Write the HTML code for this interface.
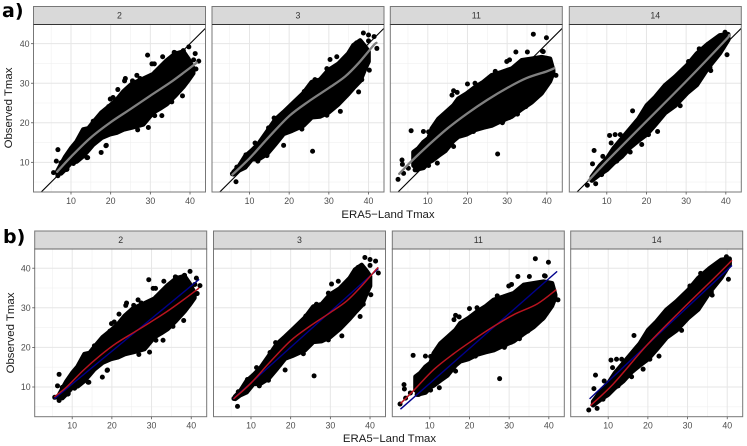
<!DOCTYPE html>
<html lang="en">
<head>
<meta charset="utf-8">
<title>Observed vs ERA5-Land Tmax</title>
<style>
html,body{margin:0;padding:0;background:#fff;width:747px;height:446px;overflow:hidden}
svg{display:block;font-family:"Liberation Sans",sans-serif}
</style>
</head>
<body>
<svg id="chart" width="747" height="446" viewBox="0 0 747 446" xmlns="http://www.w3.org/2000/svg">
<text x="2" y="17" font-family="DejaVu Sans, sans-serif" font-weight="700" font-size="19">a)</text>
<text x="3" y="243" font-family="DejaVu Sans, sans-serif" font-weight="700" font-size="19">b)</text>
<text transform="translate(12,108) rotate(-90)" text-anchor="middle" font-size="11.4" fill="#1a1a1a">Observed Tmax</text>
<text transform="translate(14,333) rotate(-90)" text-anchor="middle" font-size="11.4" fill="#1a1a1a">Observed Tmax</text>
<text x="388" y="218" text-anchor="middle" font-size="11.4" fill="#1a1a1a">ERA5−Land Tmax</text>
<text x="389.5" y="442" text-anchor="middle" font-size="11.4" fill="#1a1a1a">ERA5−Land Tmax</text>
</svg>
<script>
// ---- chart data (in degrees C) ----
const siteLabels = ["2", "3", "11", "14"];
const majorTicks = [10, 20, 30, 40];
const minorTicks = [5, 15, 25, 35, 45];

// dense cloud outline: [ERA5 Tmax, lowest observed, highest observed]
const cloud2 = [[6.5,7.3,7.6],[7.5,7.2,9.5],[8.5,8.2,11.3],[10,9.9,13.5],[11.4,10.2,15.2],[13.1,11.6,18.3],[14.4,13.1,18.6],[15.6,14.5,20.1],[17.7,16.2,22.6],[19.8,17.1,24.3],[21.5,17.5,25.8],[23.2,18.3,27.9],[25.3,18.8,29.8],[28.2,19.6,31.1],[30.7,22.6,32.3],[32.4,23.6,34],[34.1,24.7,35.7],[36.2,26.8,37.4],[38.3,29.1,38],[39.6,30.8,36.1],[40.8,32.5,33.8]];
const cloud3 = [[6,7,7.6],[7.2,7.9,8.8],[8.9,8.7,11.5],[10.6,10.8,13],[12.3,10.8,14.7],[14.4,12.1,17.7],[16.5,14.6,20.8],[18.6,17.2,22.7],[20.7,18,24.7],[23.6,19.3,27.5],[25.7,21.4,30.3],[27.8,21.6,30.9],[29.9,22.6,33.3],[32.4,24.7,34.9],[34.9,27.3,37.5],[36.2,28.8,39.6],[37.9,30.6,40.8],[39.1,33.6,39.3],[40,35.5,38]];
const cloud11 = [[6.4,9.2,12.6],[7.6,8.3,13.5],[8.9,8.6,15.1],[10.2,10,16.1],[11,10.4,18.5],[12.7,11.7,21],[14.4,12.9,22.5],[16.5,15.5,24.4],[17.7,16.5,26.1],[19.8,17.1,27.4],[21.9,18.2,29],[24,18.8,30.3],[26.1,19.3,32],[28.6,20.5,32.8],[31.2,21.6,33.7],[33.7,23.5,35.8],[36.2,25.2,36.2],[38.7,27.5,36.6],[40.8,30.5,36.2],[41.6,32.6,33.3]];
const cloud14 = [[6.2,5.4,6.3],[8.3,7,9.2],[10,8.1,10.9],[11.7,9.8,13.5],[13.8,11.5,16],[15.9,13.8,18.5],[18,15.5,21],[20.1,17.1,24.4],[22.2,19.5,26.5],[24.7,22.5,29.5],[27.2,24.3,31.6],[30.2,27.5,34.5],[32.7,29.6,37.5],[35.6,34,40],[38.5,37.6,42.1],[40.6,41,42.4]];

// individual outlying stations: [ERA5 Tmax, observed Tmax]
const outliers2 = [[39.7,39.2],[41.3,37.5],[42.2,35.6],[41.5,33.6],[38.1,26.8],[32.9,21.8],[31.1,21.8],[29.3,37.1],[33.1,36.7],[30.4,34.9],[31,34.9],[23.7,31.2],[23.5,30.6],[21.8,28.4],[26.6,32],[19.9,26],[20.6,26.4],[19.5,24.1],[18.9,14.3],[17.6,12.5],[6.7,13.2],[6.3,10.3],[7.5,9.9],[5.6,7.4],[6.7,6.6],[9,8.3],[14.2,11.2],[36,37.8],[38.3,38.2],[40.9,35.9]];
const outliers3 = [[38.7,42.7],[40,42.2],[41.4,41.8],[42.1,38.8],[40.2,33.3],[37.5,27.8],[32.9,22.9],[29.5,33.7],[30.3,36],[32,36.7],[25.9,12.8],[18.6,14.3],[6.6,5.1],[5.7,7.1],[6.8,8.8],[9.1,11.9],[16.2,21.2],[40,40.7]];
const outliers11 = [[36.6,42.4],[39.9,41.5],[38.9,38.1],[35.1,37.9],[32.2,37.9],[29.9,35.5],[30.6,35.9],[27.6,12.1],[20,29.8],[16.5,28.1],[16.1,27],[17.4,27.7],[5.8,18],[8.9,17.8],[3.5,10.6],[3.6,9.5],[3.9,7.2],[2.5,5.7],[12.4,9.8],[42.3,32],[38.3,27.2],[34.7,24.1],[32.4,22.8],[30.5,21.3],[28.8,20],[27.4,20.1],[7.2,8.1],[5.1,8.5]];
const outliers14 = [[16.5,23],[22.8,17.8],[40.3,37.2],[10.7,16.8],[12.1,17],[11.1,14.9],[6.8,13],[6.4,9.6],[5.1,4.2],[7.2,4.6],[9,11.5],[28.5,24.3],[39.8,42.9],[36.2,33.2]];

// stations along the rough edge of each cloud: [ERA5 Tmax, observed Tmax]
const edge2 = [[15.6,20.4],[19.6,24.1],[24,27.9],[25.5,30.6],[27.4,31.2],[31.2,32.7],[36.2,37.7],[38.3,38.2],[14,11.2],[10.6,9.7],[8.9,8.2],[18.8,14.2],[26.8,18.2],[29.5,18.8],[35.4,25.3]];
const edge3 = [[11.4,14.9],[14.8,18.7],[23.8,27.9],[26.5,30.9],[37,40.2],[12.1,10.3],[14.4,11.7],[17.3,15.7],[23.2,18.4],[29.5,21.9],[34.5,27.5],[38.3,30.9]];
const edge11 = [[10.2,17.7],[21.9,30],[23.6,29.6],[27,33],[39.1,38],[6.8,8.1],[10.2,9.2],[16.5,14],[21.5,17.8],[27,19.9],[29,20.5],[32.6,22.2],[38.4,27.3]];
const edge14 = [[13.4,17],[30.6,35.5],[33.3,38.7],[18.8,14.5],[20.5,17],[33.1,30.5],[36,34],[8.7,6.9],[12.5,10.3],[15.9,12.6]];

// row a: grey smoother
const greyFit2 = [[6.5,7.6],[10,11.4],[14.8,16.1],[19.8,20],[24.9,23.4],[29.9,26.8],[34.9,30.1],[38.7,32.9],[41.7,35.2]];
const greyFit3 = [[5.7,6.9],[10,11],[14.8,16.3],[20,21.7],[24.9,25.4],[30,28.8],[34.1,31.7],[37.5,35.1],[41.2,39.5],[42,40.2]];
const greyFit11 = [[2.8,7.1],[6,10.4],[10,14.2],[15,18.6],[20,22.4],[25,25.8],[30,28.8],[34.9,31.3],[40,33],[41.9,33.8]];
const greyFit14 = [[5.4,5.4],[10,10.3],[20,20.4],[30,30.5],[40,41],[40.8,42.1]];

// row b: blue linear fit end points
const blueFit2 = [[5.5,7.05],[42,37.2]];
const blueFit3 = [[5.5,7],[42.1,39.9]];
const blueFit11 = [[2.6,4.4],[42.1,39.2]];
const blueFit14 = [[5.3,7],[41.2,40.7]];

// row b: red smoother
const redFit2 = [[5.5,7.5],[8.6,10],[12.8,14.2],[17,17.9],[21.2,21.1],[25.4,23.7],[29.6,26.3],[33.8,29],[38,32],[42,35]];
const redFit3 = [[5.6,7],[10,11],[14.8,16.3],[20,21.7],[24.9,25.4],[30,28.8],[34.1,31.7],[37.5,35.1],[41.2,39.3],[42.1,40.2]];
const redFit11 = [[2.6,5.8],[6,9.2],[11,14.4],[16,18.4],[21.1,22],[26.1,25.3],[31.2,28.3],[37.1,31],[41.9,34.6]];
const redFit14 = [[5.5,5.3],[11.3,10.8],[19.7,20.5],[28.2,29.2],[36.6,37.4],[41.2,42]];

const clouds = [cloud2, cloud3, cloud11, cloud14];
const outlierSets = [outliers2, outliers3, outliers11, outliers14];
const edgeSets = [edge2, edge3, edge11, edge14];
const greyFits = [greyFit2, greyFit3, greyFit11, greyFit14];
const blueFits = [blueFit2, blueFit3, blueFit11, blueFit14];
const redFits = [redFit2, redFit3, redFit11, redFit14];

// ---- layout ----
const NS = "http://www.w3.org/2000/svg";
const svg = document.getElementById("chart");
const PANEL_W = 172, X_LO = 0.55, X_HI = 43.9, Y_LO = 2.5, Y_HI = 44.85, POINT_R = 2.5;
const rows = [
  { id: "a", lefts: [33.5, 212, 390.3, 569.3], stripTop: 6.5, top: 24.5, bottom: 192, rule: "#333" },
  { id: "b", lefts: [34.7, 213.5, 392.3, 570.7], stripTop: 231, top: 249, bottom: 416.7, rule: "#666" }
];

function make(tag, attrs, parent) {
  const el = document.createElementNS(NS, tag);
  for (const k in attrs) el.setAttribute(k, attrs[k]);
  parent.appendChild(el);
  return el;
}
function smoothPath(pts) {
  let d = "M" + pts[0][0].toFixed(2) + " " + pts[0][1].toFixed(2);
  for (let i = 0; i < pts.length - 1; i++) {
    const p0 = pts[Math.max(i - 1, 0)], p1 = pts[i], p2 = pts[i + 1], p3 = pts[Math.min(i + 2, pts.length - 1)];
    const c1x = p1[0] + (p2[0] - p0[0]) / 6, c1y = p1[1] + (p2[1] - p0[1]) / 6;
    const c2x = p2[0] - (p3[0] - p1[0]) / 6, c2y = p2[1] - (p3[1] - p1[1]) / 6;
    d += "C" + c1x.toFixed(2) + " " + c1y.toFixed(2) + " " + c2x.toFixed(2) + " " + c2y.toFixed(2) + " " + p2[0].toFixed(2) + " " + p2[1].toFixed(2);
  }
  return d;
}

rows.forEach(function (row) {
  row.lefts.forEach(function (left, s) {
    const sx = function (v) { return left + (v - X_LO) / (X_HI - X_LO) * PANEL_W; };
    const sy = function (v) { return row.bottom - (v - Y_LO) / (Y_HI - Y_LO) * (row.bottom - row.top); };
    const h = row.bottom - row.top;

    const g = make("g", {}, svg);
    
    

    const clipId = "clip-" + row.id + s;
    const defs = make("defs", {}, g);
    const cp = make("clipPath", { id: clipId }, defs);
    make("rect", { x: left, y: row.top, width: PANEL_W, height: h }, cp);

    const bg = make("rect", { x: left, y: row.top, width: PANEL_W, height: h, fill: "#fff" }, g);
    
    

    minorTicks.forEach(function (t) {
      if (t >= X_LO && t <= X_HI) {
        const gv = make("line", { x1: sx(t), x2: sx(t), y1: row.top, y2: row.bottom, stroke: "#f0f0f0", "stroke-width": 0.6 }, g);
        
        
      }
      if (t >= Y_LO && t <= Y_HI) {
        const gh = make("line", { x1: left, x2: left + PANEL_W, y1: sy(t), y2: sy(t), stroke: "#f0f0f0", "stroke-width": 0.6 }, g);
        
        
      }
    });
    majorTicks.forEach(function (t) {
      const gv = make("line", { x1: sx(t), x2: sx(t), y1: row.top, y2: row.bottom, stroke: "#e6e6e6", "stroke-width": 1 }, g);
      
      
      const gh = make("line", { x1: left, x2: left + PANEL_W, y1: sy(t), y2: sy(t), stroke: "#e6e6e6", "stroke-width": 1 }, g);
      
      
    });

    const inner = make("g", { "clip-path": "url(#" + clipId + ")" }, g);
    
    

    if (row.id === "a") {
      const ref = make("line", { x1: sx(X_LO), y1: sy(X_LO), x2: sx(X_HI), y2: sy(X_HI), stroke: "#000", "stroke-width": 1.1 }, inner);
      
      
    }

    const cloud = clouds[s];
    const upper = cloud.map(function (c) { return sx(c[0]).toFixed(2) + "," + sy(c[2]).toFixed(2); });
    const lower = cloud.map(function (c) { return sx(c[0]).toFixed(2) + "," + sy(c[1]).toFixed(2); }).reverse();
    const blob = make("polygon", { points: upper.concat(lower).join(" "), fill: "#000", stroke: "#000", "stroke-width": 4.6, "stroke-linejoin": "round" }, inner);
    
    

    edgeSets[s].forEach(function (p) {
      const c = make("circle", { cx: sx(p[0]), cy: sy(p[1]), r: POINT_R, fill: "#000" }, inner);
      
      
    });

    outlierSets[s].forEach(function (p) {
      const c = make("circle", { cx: sx(p[0]), cy: sy(p[1]), r: POINT_R, fill: "#000" }, inner);
      
      
    });

    const toPx = function (f) { return f.map(function (p) { return [sx(p[0]), sy(p[1])]; }); };
    if (row.id === "a") {
      const fit = make("path", { d: smoothPath(toPx(greyFits[s])), fill: "none", stroke: "#808080", "stroke-width": 2.3, "stroke-linecap": "round" }, inner);
      
      
    } else {
      const blue = make("path", { d: smoothPath(toPx(blueFits[s])), fill: "none", stroke: "#00008b", "stroke-width": 1.4 }, inner);
      
      
      const red = make("path", { d: smoothPath(toPx(redFits[s])), fill: "none", stroke: "#b8131f", "stroke-width": 1.5 }, inner);
      
      
    }

    const border = make("rect", { x: left, y: row.top, width: PANEL_W, height: h, fill: "none", stroke: "#777", "stroke-width": 1 }, g);
    
    

    const strip = make("rect", { x: left, y: row.stripTop, width: PANEL_W, height: row.top - row.stripTop, fill: "#d9d9d9", stroke: "#777", "stroke-width": 1 }, g);
    
    
    const stripLine = make("line", { x1: left, x2: left + PANEL_W, y1: row.top, y2: row.top, stroke: row.rule, "stroke-width": 1 }, g);
    
    
    const stripText = make("text", { x: left + PANEL_W / 2, y: (row.stripTop + row.top) / 2 + 3.2, "text-anchor": "middle", "font-size": 8.8, fill: "#333" }, g);
    
    
    stripText.textContent = siteLabels[s];

    majorTicks.forEach(function (t) {
      const tick = make("line", { x1: sx(t), x2: sx(t), y1: row.bottom, y2: row.bottom + 2.5, stroke: "#555", "stroke-width": 0.8 }, g);
      
      
      const lab = make("text", { x: sx(t), y: row.bottom + 12, "text-anchor": "middle", "font-size": 8.8, fill: "#4d4d4d" }, g);
      
      
      lab.textContent = t;
      if (s === 0) {
        const ytick = make("line", { x1: left - 2.5, x2: left, y1: sy(t), y2: sy(t), stroke: "#555", "stroke-width": 0.8 }, g);
        
        
        const ylab = make("text", { x: left - 4, y: sy(t) + 3.1, "text-anchor": "end", "font-size": 8.8, fill: "#4d4d4d" }, g);
        
        
        ylab.textContent = t;
      }
    });
  });
});
</script>
</body>
</html>
